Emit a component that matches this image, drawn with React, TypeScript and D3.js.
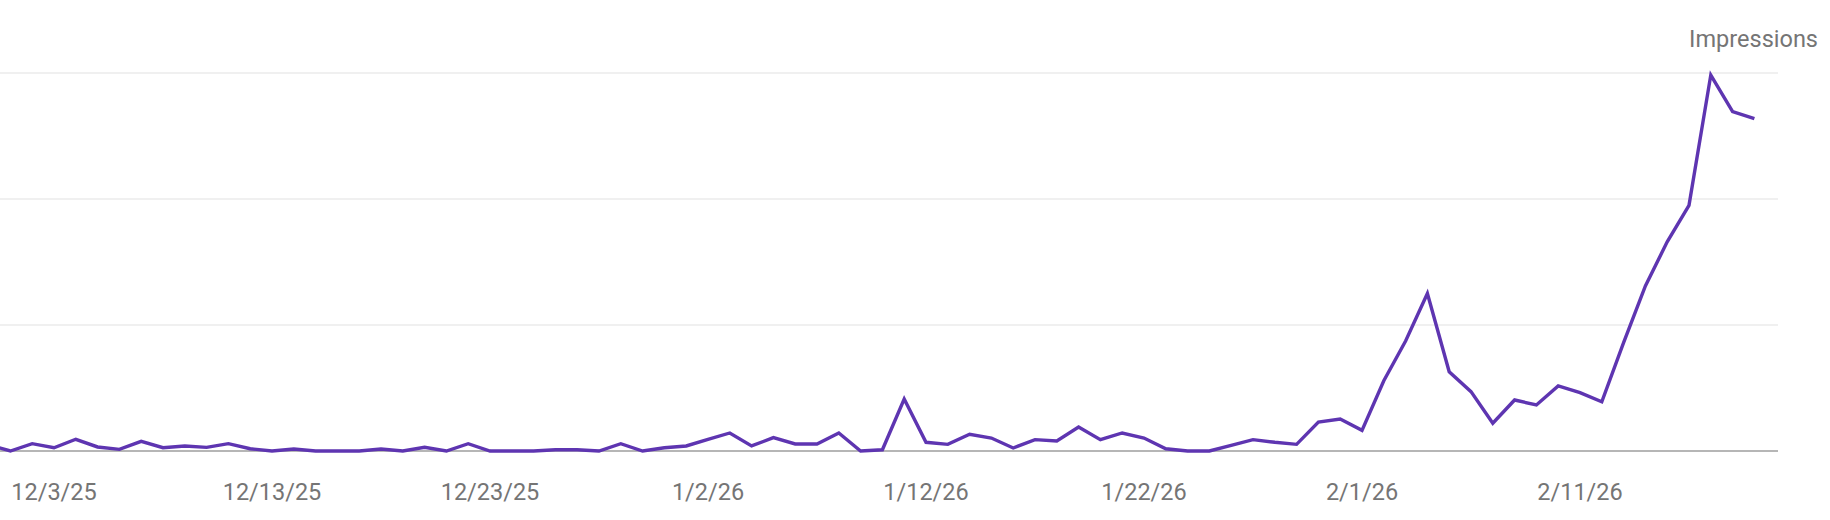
import { useEffect, useRef } from 'react'
import * as d3 from 'd3'

// daily impressions, 11/30/25 .. 2/19/26 (one value per day)
const START = '2025-11-30'
const impressions = [
  0.5, 0, 0.58, 0.26, 0.93, 0.32, 0.13, 0.77, 0.26, 0.4,
  0.29, 0.58, 0.18, 0, 0.16, 0, 0, 0, 0.16, 0,
  0.29, 0, 0.58, 0, 0, 0, 0.1, 0.1, 0, 0.58,
  0, 0.26, 0.4, 0.93, 1.43, 0.4, 1.06, 0.56, 0.56, 1.43,
  0, 0.1, 4.13, 0.69, 0.53, 1.33, 1.03, 0.24, 0.9, 0.79,
  1.9, 0.9, 1.43, 1.03, 0.18, 0, 0, 0.45, 0.9, 0.69,
  0.53, 2.3, 2.54, 1.64, 5.58, 8.73, 12.5, 6.29, 4.71, 2.2,
  4.05, 3.65, 5.16, 4.63, 3.91, 8.6, 13.1, 16.6, 19.5, 29.84,
  26.93, 26.37,
]
const tickDates = ['2025-12-03', '2025-12-13', '2025-12-23', '2026-01-02', '2026-01-12', '2026-01-22', '2026-02-01', '2026-02-11']
const yTicks = [0, 10, 20, 30]
const seriesName = 'Impressions'

type Point = { date: Date; value: number }

const parse = d3.utcParse('%Y-%m-%d')
const fmt = d3.utcFormat('%-m/%-d/%y')

export default function App() {
  const svgRef = useRef<SVGSVGElement>(null)

  useEffect(() => {
    document.body.style.margin = '0'
    const svgEl = svgRef.current
    if (!svgEl) return

    const width = 1830
    const height = 520
    const plot = { left: 0, right: 1778, top: 73, bottom: 451 }

    const start = parse(START)!
    const data: Point[] = impressions.map((v, i) => ({ date: d3.utcDay.offset(start, i), value: v }))

    // 12/1 sits at x≈10, 2/1 at x≈1362
    const x = d3.scaleUtc()
      .domain([parse('2025-12-01')!, parse('2026-02-01')!])
      .range([10.4, 1362])
    const y = d3.scaleLinear().domain([0, 30]).range([plot.bottom, plot.top])

    const svg = d3.select(svgEl)
    svg.attr('width', width).attr('height', height).selectAll('*').remove()

    svg.append('defs').append('clipPath').attr('id', 'plot-clip')
      .append('rect')
      .attr('x', plot.left).attr('y', 0)
      .attr('width', plot.right - plot.left).attr('height', height)

    // Gridlines
    svg.append('g')
      .selectAll('line')
      .data(yTicks.filter(d => d > 0))
      .join('line')
      .attr('x1', plot.left).attr('x2', plot.right)
      .attr('y1', d => y(d)).attr('y2', d => y(d))
      .style('stroke', '#ebebeb')
      .style('stroke-width', '1.5')

    // Baseline
    svg.append('line')
      .attr('x1', plot.left).attr('x2', plot.right)
      .attr('y1', y(0)).attr('y2', y(0))
      .style('stroke', '#9e9e9e')
      .style('stroke-width', '1.5')

    // X tick labels
    svg.append('g')
      .selectAll('text')
      .data(tickDates.map(d => parse(d)!))
      .join('text')
      .attr('x', d => x(d))
      .attr('y', 500)
      .attr('text-anchor', 'middle')
      .style('fill', '#757575')
      .style('font-size', '23.5px')
      .style('font-family', 'Roboto, sans-serif')
      .text(d => fmt(d))

    // Series label
    svg.append('text')
      .attr('x', 1818)
      .attr('y', 47)
      .attr('text-anchor', 'end')
      .style('fill', '#757575')
      .style('font-size', '23.5px')
      .style('font-family', 'Roboto, sans-serif')
      .text(seriesName)

    // Line
    const line = d3.line<Point>()
      .x(d => x(d.date))
      .y(d => y(d.value))

    svg.append('path')
      .datum(data)
      .attr('clip-path', 'url(#plot-clip)')
      .attr('fill', 'none')
      .attr('d', line)
      .style('stroke', '#5e35b1')
      .style('stroke-width', '3.4')
      .style('stroke-linejoin', 'miter')
  }, [])

  return (
    <div style={{ position: 'absolute', left: 0, top: 0, width: 1830, height: 520, background: '#fff' }}>
      <svg ref={svgRef} style={{ display: 'block' }} />
    </div>
  )
}
